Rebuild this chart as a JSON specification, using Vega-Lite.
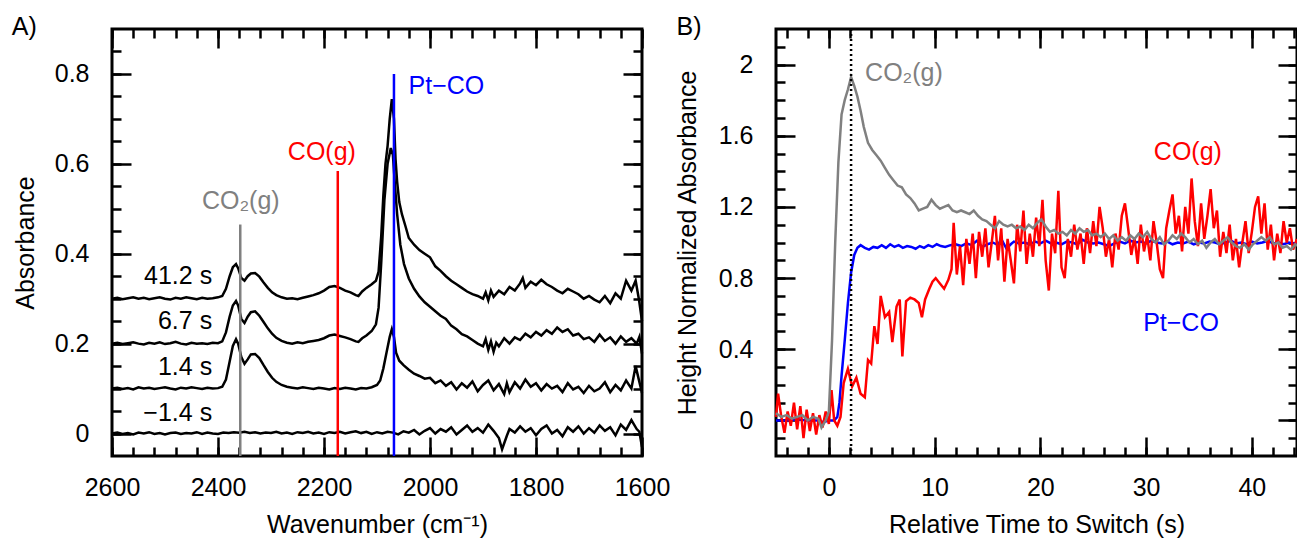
{
"$schema":"https://vega.github.io/schema/vega-lite/v6.json",
"padding":{"left":10,"top":13,"right":0,"bottom":0},
"spacing":134,
"bounds":"flush",
"config":{"font":"Liberation Sans","view":{"stroke":null},
"axis":{"grid":false,"domain":false,"labelFont":"Liberation Sans","titleFont":"Liberation Sans","labelFontSize":25,"titleFontSize":25,"titleFontWeight":"normal","labelColor":"black","titleColor":"black","tickColor":"black","tickWidth":2.5,"labelFlush":false,"labelOverlap":false},
"text":{"font":"Liberation Sans","fontSize":25}},
"datasets":{
"specA":[
{"s":"-1.4","wn":2600,"a":0.000},{"s":"-1.4","wn":2590,"a":0.002},{"s":"-1.4","wn":2580,"a":-0.001},{"s":"-1.4","wn":2570,"a":0.001},{"s":"-1.4","wn":2560,"a":-0.002},{"s":"-1.4","wn":2550,"a":0.002},{"s":"-1.4","wn":2540,"a":0.000},{"s":"-1.4","wn":2530,"a":0.003},{"s":"-1.4","wn":2520,"a":-0.001},{"s":"-1.4","wn":2510,"a":0.001},{"s":"-1.4","wn":2500,"a":-0.002},{"s":"-1.4","wn":2490,"a":0.001},{"s":"-1.4","wn":2480,"a":0.002},{"s":"-1.4","wn":2470,"a":-0.001},{"s":"-1.4","wn":2460,"a":0.001},{"s":"-1.4","wn":2450,"a":0.000},{"s":"-1.4","wn":2440,"a":0.003},{"s":"-1.4","wn":2430,"a":-0.001},{"s":"-1.4","wn":2420,"a":0.002},{"s":"-1.4","wn":2410,"a":0.000},{"s":"-1.4","wn":2400,"a":-0.001},{"s":"-1.4","wn":2390,"a":0.002},{"s":"-1.4","wn":2380,"a":0.001},{"s":"-1.4","wn":2370,"a":0.003},{"s":"-1.4","wn":2360,"a":0.002},{"s":"-1.4","wn":2350,"a":0.004},{"s":"-1.4","wn":2340,"a":0.001},{"s":"-1.4","wn":2330,"a":0.003},{"s":"-1.4","wn":2320,"a":0.000},{"s":"-1.4","wn":2310,"a":0.002},{"s":"-1.4","wn":2300,"a":0.001},{"s":"-1.4","wn":2290,"a":0.004},{"s":"-1.4","wn":2280,"a":0.000},{"s":"-1.4","wn":2270,"a":0.002},{"s":"-1.4","wn":2260,"a":-0.001},{"s":"-1.4","wn":2250,"a":0.003},{"s":"-1.4","wn":2240,"a":0.001},{"s":"-1.4","wn":2230,"a":0.004},{"s":"-1.4","wn":2220,"a":0.000},{"s":"-1.4","wn":2210,"a":0.002},{"s":"-1.4","wn":2200,"a":-0.001},{"s":"-1.4","wn":2190,"a":0.003},{"s":"-1.4","wn":2180,"a":0.001},{"s":"-1.4","wn":2170,"a":0.004},{"s":"-1.4","wn":2160,"a":0.000},{"s":"-1.4","wn":2150,"a":0.003},{"s":"-1.4","wn":2140,"a":0.005},{"s":"-1.4","wn":2130,"a":0.001},{"s":"-1.4","wn":2120,"a":0.004},{"s":"-1.4","wn":2110,"a":-0.001},{"s":"-1.4","wn":2100,"a":0.003},{"s":"-1.4","wn":2090,"a":0.000},{"s":"-1.4","wn":2080,"a":0.004},{"s":"-1.4","wn":2070,"a":0.002},{"s":"-1.4","wn":2060,"a":-0.002},{"s":"-1.4","wn":2050,"a":0.005},{"s":"-1.4","wn":2040,"a":0.002},{"s":"-1.4","wn":2030,"a":0.008},{"s":"-1.4","wn":2020,"a":-0.002},{"s":"-1.4","wn":2010,"a":0.006},{"s":"-1.4","wn":2000,"a":0.012},{"s":"-1.4","wn":1990,"a":0.000},{"s":"-1.4","wn":1980,"a":0.010},{"s":"-1.4","wn":1970,"a":0.004},{"s":"-1.4","wn":1960,"a":0.014},{"s":"-1.4","wn":1950,"a":-0.002},{"s":"-1.4","wn":1940,"a":0.008},{"s":"-1.4","wn":1930,"a":0.018},{"s":"-1.4","wn":1920,"a":0.004},{"s":"-1.4","wn":1910,"a":0.012},{"s":"-1.4","wn":1900,"a":0.002},{"s":"-1.4","wn":1890,"a":0.020},{"s":"-1.4","wn":1880,"a":0.006},{"s":"-1.4","wn":1870,"a":-0.010},{"s":"-1.4","wn":1864,"a":-0.035},{"s":"-1.4","wn":1855,"a":-0.005},{"s":"-1.4","wn":1850,"a":0.010},{"s":"-1.4","wn":1840,"a":0.002},{"s":"-1.4","wn":1830,"a":0.016},{"s":"-1.4","wn":1820,"a":0.004},{"s":"-1.4","wn":1810,"a":0.012},{"s":"-1.4","wn":1800,"a":-0.004},{"s":"-1.4","wn":1790,"a":0.010},{"s":"-1.4","wn":1780,"a":0.018},{"s":"-1.4","wn":1770,"a":0.000},{"s":"-1.4","wn":1760,"a":0.008},{"s":"-1.4","wn":1750,"a":-0.006},{"s":"-1.4","wn":1740,"a":0.014},{"s":"-1.4","wn":1730,"a":0.004},{"s":"-1.4","wn":1720,"a":0.016},{"s":"-1.4","wn":1710,"a":0.000},{"s":"-1.4","wn":1700,"a":0.012},{"s":"-1.4","wn":1690,"a":0.002},{"s":"-1.4","wn":1680,"a":0.018},{"s":"-1.4","wn":1670,"a":0.006},{"s":"-1.4","wn":1660,"a":0.014},{"s":"-1.4","wn":1650,"a":-0.004},{"s":"-1.4","wn":1640,"a":0.020},{"s":"-1.4","wn":1630,"a":0.008},{"s":"-1.4","wn":1620,"a":0.030},{"s":"-1.4","wn":1610,"a":0.010},{"s":"-1.4","wn":1605,"a":0.004},{"s":"-1.4","wn":1600,"a":-0.030},
{"s":"1.4","wn":2600,"a":0.100},{"s":"1.4","wn":2590,"a":0.102},{"s":"1.4","wn":2580,"a":0.099},{"s":"1.4","wn":2570,"a":0.101},{"s":"1.4","wn":2560,"a":0.098},{"s":"1.4","wn":2550,"a":0.103},{"s":"1.4","wn":2540,"a":0.100},{"s":"1.4","wn":2530,"a":0.102},{"s":"1.4","wn":2520,"a":0.099},{"s":"1.4","wn":2510,"a":0.101},{"s":"1.4","wn":2500,"a":0.103},{"s":"1.4","wn":2490,"a":0.100},{"s":"1.4","wn":2480,"a":0.098},{"s":"1.4","wn":2470,"a":0.102},{"s":"1.4","wn":2460,"a":0.100},{"s":"1.4","wn":2450,"a":0.103},{"s":"1.4","wn":2440,"a":0.101},{"s":"1.4","wn":2430,"a":0.099},{"s":"1.4","wn":2420,"a":0.102},{"s":"1.4","wn":2410,"a":0.100},{"s":"1.4","wn":2400,"a":0.101},{"s":"1.4","wn":2392,"a":0.104},{"s":"1.4","wn":2385,"a":0.120},{"s":"1.4","wn":2378,"a":0.160},{"s":"1.4","wn":2372,"a":0.195},{"s":"1.4","wn":2366,"a":0.210},{"s":"1.4","wn":2362,"a":0.200},{"s":"1.4","wn":2356,"a":0.170},{"s":"1.4","wn":2350,"a":0.155},{"s":"1.4","wn":2344,"a":0.165},{"s":"1.4","wn":2338,"a":0.176},{"s":"1.4","wn":2330,"a":0.177},{"s":"1.4","wn":2322,"a":0.168},{"s":"1.4","wn":2314,"a":0.152},{"s":"1.4","wn":2306,"a":0.137},{"s":"1.4","wn":2298,"a":0.124},{"s":"1.4","wn":2290,"a":0.115},{"s":"1.4","wn":2280,"a":0.108},{"s":"1.4","wn":2270,"a":0.104},{"s":"1.4","wn":2260,"a":0.102},{"s":"1.4","wn":2250,"a":0.100},{"s":"1.4","wn":2240,"a":0.103},{"s":"1.4","wn":2230,"a":0.101},{"s":"1.4","wn":2220,"a":0.099},{"s":"1.4","wn":2210,"a":0.102},{"s":"1.4","wn":2200,"a":0.100},{"s":"1.4","wn":2190,"a":0.098},{"s":"1.4","wn":2180,"a":0.101},{"s":"1.4","wn":2170,"a":0.099},{"s":"1.4","wn":2160,"a":0.102},{"s":"1.4","wn":2150,"a":0.100},{"s":"1.4","wn":2140,"a":0.098},{"s":"1.4","wn":2130,"a":0.101},{"s":"1.4","wn":2120,"a":0.100},{"s":"1.4","wn":2110,"a":0.103},{"s":"1.4","wn":2100,"a":0.108},{"s":"1.4","wn":2094,"a":0.118},{"s":"1.4","wn":2088,"a":0.145},{"s":"1.4","wn":2082,"a":0.180},{"s":"1.4","wn":2076,"a":0.215},{"s":"1.4","wn":2072,"a":0.232},{"s":"1.4","wn":2068,"a":0.215},{"s":"1.4","wn":2064,"a":0.180},{"s":"1.4","wn":2058,"a":0.162},{"s":"1.4","wn":2050,"a":0.152},{"s":"1.4","wn":2040,"a":0.142},{"s":"1.4","wn":2030,"a":0.133},{"s":"1.4","wn":2020,"a":0.128},{"s":"1.4","wn":2010,"a":0.122},{"s":"1.4","wn":2000,"a":0.124},{"s":"1.4","wn":1990,"a":0.112},{"s":"1.4","wn":1980,"a":0.118},{"s":"1.4","wn":1970,"a":0.106},{"s":"1.4","wn":1960,"a":0.114},{"s":"1.4","wn":1950,"a":0.098},{"s":"1.4","wn":1940,"a":0.112},{"s":"1.4","wn":1930,"a":0.102},{"s":"1.4","wn":1920,"a":0.116},{"s":"1.4","wn":1910,"a":0.094},{"s":"1.4","wn":1900,"a":0.108},{"s":"1.4","wn":1890,"a":0.118},{"s":"1.4","wn":1880,"a":0.096},{"s":"1.4","wn":1870,"a":0.110},{"s":"1.4","wn":1860,"a":0.088},{"s":"1.4","wn":1855,"a":0.112},{"s":"1.4","wn":1850,"a":0.092},{"s":"1.4","wn":1840,"a":0.114},{"s":"1.4","wn":1830,"a":0.100},{"s":"1.4","wn":1820,"a":0.120},{"s":"1.4","wn":1810,"a":0.104},{"s":"1.4","wn":1800,"a":0.112},{"s":"1.4","wn":1790,"a":0.096},{"s":"1.4","wn":1780,"a":0.110},{"s":"1.4","wn":1770,"a":0.100},{"s":"1.4","wn":1760,"a":0.106},{"s":"1.4","wn":1750,"a":0.092},{"s":"1.4","wn":1740,"a":0.112},{"s":"1.4","wn":1730,"a":0.098},{"s":"1.4","wn":1720,"a":0.104},{"s":"1.4","wn":1710,"a":0.090},{"s":"1.4","wn":1700,"a":0.106},{"s":"1.4","wn":1690,"a":0.094},{"s":"1.4","wn":1680,"a":0.100},{"s":"1.4","wn":1670,"a":0.114},{"s":"1.4","wn":1660,"a":0.092},{"s":"1.4","wn":1650,"a":0.108},{"s":"1.4","wn":1640,"a":0.096},{"s":"1.4","wn":1630,"a":0.118},{"s":"1.4","wn":1620,"a":0.100},{"s":"1.4","wn":1612,"a":0.150},{"s":"1.4","wn":1606,"a":0.120},{"s":"1.4","wn":1600,"a":0.090},
{"s":"6.7","wn":2600,"a":0.200},{"s":"6.7","wn":2590,"a":0.202},{"s":"6.7","wn":2580,"a":0.199},{"s":"6.7","wn":2570,"a":0.201},{"s":"6.7","wn":2560,"a":0.203},{"s":"6.7","wn":2550,"a":0.200},{"s":"6.7","wn":2540,"a":0.198},{"s":"6.7","wn":2530,"a":0.202},{"s":"6.7","wn":2520,"a":0.200},{"s":"6.7","wn":2510,"a":0.203},{"s":"6.7","wn":2500,"a":0.199},{"s":"6.7","wn":2490,"a":0.201},{"s":"6.7","wn":2480,"a":0.204},{"s":"6.7","wn":2470,"a":0.200},{"s":"6.7","wn":2460,"a":0.198},{"s":"6.7","wn":2450,"a":0.202},{"s":"6.7","wn":2440,"a":0.200},{"s":"6.7","wn":2430,"a":0.201},{"s":"6.7","wn":2420,"a":0.199},{"s":"6.7","wn":2410,"a":0.202},{"s":"6.7","wn":2400,"a":0.201},{"s":"6.7","wn":2392,"a":0.205},{"s":"6.7","wn":2385,"a":0.225},{"s":"6.7","wn":2378,"a":0.260},{"s":"6.7","wn":2372,"a":0.285},{"s":"6.7","wn":2366,"a":0.295},{"s":"6.7","wn":2362,"a":0.285},{"s":"6.7","wn":2356,"a":0.255},{"s":"6.7","wn":2350,"a":0.246},{"s":"6.7","wn":2344,"a":0.260},{"s":"6.7","wn":2338,"a":0.270},{"s":"6.7","wn":2330,"a":0.272},{"s":"6.7","wn":2322,"a":0.262},{"s":"6.7","wn":2314,"a":0.248},{"s":"6.7","wn":2306,"a":0.234},{"s":"6.7","wn":2298,"a":0.222},{"s":"6.7","wn":2290,"a":0.213},{"s":"6.7","wn":2280,"a":0.206},{"s":"6.7","wn":2270,"a":0.202},{"s":"6.7","wn":2260,"a":0.200},{"s":"6.7","wn":2250,"a":0.203},{"s":"6.7","wn":2240,"a":0.201},{"s":"6.7","wn":2230,"a":0.204},{"s":"6.7","wn":2220,"a":0.206},{"s":"6.7","wn":2210,"a":0.208},{"s":"6.7","wn":2200,"a":0.212},{"s":"6.7","wn":2190,"a":0.218},{"s":"6.7","wn":2180,"a":0.220},{"s":"6.7","wn":2170,"a":0.217},{"s":"6.7","wn":2160,"a":0.214},{"s":"6.7","wn":2150,"a":0.210},{"s":"6.7","wn":2140,"a":0.205},{"s":"6.7","wn":2135,"a":0.204},{"s":"6.7","wn":2128,"a":0.212},{"s":"6.7","wn":2120,"a":0.218},{"s":"6.7","wn":2110,"a":0.228},{"s":"6.7","wn":2102,"a":0.243},{"s":"6.7","wn":2097,"a":0.280},{"s":"6.7","wn":2092,"a":0.380},{"s":"6.7","wn":2086,"a":0.520},{"s":"6.7","wn":2080,"a":0.600},{"s":"6.7","wn":2074,"a":0.635},{"s":"6.7","wn":2070,"a":0.620},{"s":"6.7","wn":2066,"a":0.550},{"s":"6.7","wn":2062,"a":0.488},{"s":"6.7","wn":2056,"a":0.420},{"s":"6.7","wn":2049,"a":0.377},{"s":"6.7","wn":2040,"a":0.345},{"s":"6.7","wn":2030,"a":0.322},{"s":"6.7","wn":2020,"a":0.305},{"s":"6.7","wn":2010,"a":0.292},{"s":"6.7","wn":2000,"a":0.282},{"s":"6.7","wn":1990,"a":0.272},{"s":"6.7","wn":1980,"a":0.262},{"s":"6.7","wn":1970,"a":0.255},{"s":"6.7","wn":1960,"a":0.240},{"s":"6.7","wn":1950,"a":0.232},{"s":"6.7","wn":1940,"a":0.221},{"s":"6.7","wn":1930,"a":0.216},{"s":"6.7","wn":1920,"a":0.208},{"s":"6.7","wn":1910,"a":0.200},{"s":"6.7","wn":1900,"a":0.194},{"s":"6.7","wn":1895,"a":0.210},{"s":"6.7","wn":1890,"a":0.186},{"s":"6.7","wn":1885,"a":0.205},{"s":"6.7","wn":1880,"a":0.182},{"s":"6.7","wn":1875,"a":0.202},{"s":"6.7","wn":1870,"a":0.194},{"s":"6.7","wn":1860,"a":0.212},{"s":"6.7","wn":1850,"a":0.200},{"s":"6.7","wn":1840,"a":0.214},{"s":"6.7","wn":1830,"a":0.208},{"s":"6.7","wn":1820,"a":0.222},{"s":"6.7","wn":1810,"a":0.214},{"s":"6.7","wn":1800,"a":0.226},{"s":"6.7","wn":1790,"a":0.218},{"s":"6.7","wn":1780,"a":0.230},{"s":"6.7","wn":1770,"a":0.222},{"s":"6.7","wn":1760,"a":0.236},{"s":"6.7","wn":1750,"a":0.226},{"s":"6.7","wn":1740,"a":0.232},{"s":"6.7","wn":1730,"a":0.218},{"s":"6.7","wn":1720,"a":0.222},{"s":"6.7","wn":1710,"a":0.210},{"s":"6.7","wn":1700,"a":0.214},{"s":"6.7","wn":1690,"a":0.204},{"s":"6.7","wn":1680,"a":0.220},{"s":"6.7","wn":1670,"a":0.206},{"s":"6.7","wn":1660,"a":0.214},{"s":"6.7","wn":1650,"a":0.200},{"s":"6.7","wn":1640,"a":0.216},{"s":"6.7","wn":1630,"a":0.204},{"s":"6.7","wn":1620,"a":0.212},{"s":"6.7","wn":1610,"a":0.200},{"s":"6.7","wn":1605,"a":0.215},{"s":"6.7","wn":1600,"a":0.178},
{"s":"41.2","wn":2600,"a":0.300},{"s":"41.2","wn":2590,"a":0.302},{"s":"41.2","wn":2580,"a":0.299},{"s":"41.2","wn":2570,"a":0.301},{"s":"41.2","wn":2560,"a":0.303},{"s":"41.2","wn":2550,"a":0.300},{"s":"41.2","wn":2540,"a":0.302},{"s":"41.2","wn":2530,"a":0.299},{"s":"41.2","wn":2520,"a":0.301},{"s":"41.2","wn":2510,"a":0.303},{"s":"41.2","wn":2500,"a":0.300},{"s":"41.2","wn":2490,"a":0.298},{"s":"41.2","wn":2480,"a":0.302},{"s":"41.2","wn":2470,"a":0.300},{"s":"41.2","wn":2460,"a":0.303},{"s":"41.2","wn":2450,"a":0.301},{"s":"41.2","wn":2440,"a":0.299},{"s":"41.2","wn":2430,"a":0.302},{"s":"41.2","wn":2420,"a":0.300},{"s":"41.2","wn":2410,"a":0.301},{"s":"41.2","wn":2400,"a":0.303},{"s":"41.2","wn":2392,"a":0.306},{"s":"41.2","wn":2385,"a":0.322},{"s":"41.2","wn":2378,"a":0.350},{"s":"41.2","wn":2372,"a":0.370},{"s":"41.2","wn":2366,"a":0.377},{"s":"41.2","wn":2362,"a":0.368},{"s":"41.2","wn":2356,"a":0.346},{"s":"41.2","wn":2350,"a":0.340},{"s":"41.2","wn":2344,"a":0.350},{"s":"41.2","wn":2338,"a":0.356},{"s":"41.2","wn":2330,"a":0.357},{"s":"41.2","wn":2322,"a":0.349},{"s":"41.2","wn":2314,"a":0.336},{"s":"41.2","wn":2306,"a":0.324},{"s":"41.2","wn":2298,"a":0.314},{"s":"41.2","wn":2290,"a":0.308},{"s":"41.2","wn":2280,"a":0.303},{"s":"41.2","wn":2270,"a":0.300},{"s":"41.2","wn":2260,"a":0.301},{"s":"41.2","wn":2250,"a":0.299},{"s":"41.2","wn":2240,"a":0.302},{"s":"41.2","wn":2230,"a":0.305},{"s":"41.2","wn":2220,"a":0.308},{"s":"41.2","wn":2210,"a":0.312},{"s":"41.2","wn":2200,"a":0.318},{"s":"41.2","wn":2190,"a":0.326},{"s":"41.2","wn":2180,"a":0.328},{"s":"41.2","wn":2170,"a":0.324},{"s":"41.2","wn":2160,"a":0.318},{"s":"41.2","wn":2150,"a":0.314},{"s":"41.2","wn":2140,"a":0.308},{"s":"41.2","wn":2135,"a":0.306},{"s":"41.2","wn":2128,"a":0.316},{"s":"41.2","wn":2120,"a":0.324},{"s":"41.2","wn":2110,"a":0.332},{"s":"41.2","wn":2102,"a":0.340},{"s":"41.2","wn":2097,"a":0.360},{"s":"41.2","wn":2092,"a":0.440},{"s":"41.2","wn":2088,"a":0.530},{"s":"41.2","wn":2084,"a":0.600},{"s":"41.2","wn":2080,"a":0.640},{"s":"41.2","wn":2076,"a":0.700},{"s":"41.2","wn":2072,"a":0.744},{"s":"41.2","wn":2068,"a":0.700},{"s":"41.2","wn":2065,"a":0.610},{"s":"41.2","wn":2062,"a":0.560},{"s":"41.2","wn":2058,"a":0.515},{"s":"41.2","wn":2053,"a":0.488},{"s":"41.2","wn":2046,"a":0.460},{"s":"41.2","wn":2040,"a":0.435},{"s":"41.2","wn":2030,"a":0.420},{"s":"41.2","wn":2020,"a":0.408},{"s":"41.2","wn":2010,"a":0.400},{"s":"41.2","wn":2000,"a":0.392},{"s":"41.2","wn":1990,"a":0.372},{"s":"41.2","wn":1980,"a":0.362},{"s":"41.2","wn":1970,"a":0.350},{"s":"41.2","wn":1960,"a":0.340},{"s":"41.2","wn":1950,"a":0.332},{"s":"41.2","wn":1940,"a":0.324},{"s":"41.2","wn":1930,"a":0.316},{"s":"41.2","wn":1920,"a":0.310},{"s":"41.2","wn":1910,"a":0.306},{"s":"41.2","wn":1900,"a":0.300},{"s":"41.2","wn":1895,"a":0.314},{"s":"41.2","wn":1890,"a":0.296},{"s":"41.2","wn":1885,"a":0.318},{"s":"41.2","wn":1880,"a":0.304},{"s":"41.2","wn":1870,"a":0.318},{"s":"41.2","wn":1860,"a":0.310},{"s":"41.2","wn":1850,"a":0.326},{"s":"41.2","wn":1840,"a":0.318},{"s":"41.2","wn":1830,"a":0.334},{"s":"41.2","wn":1825,"a":0.346},{"s":"41.2","wn":1820,"a":0.324},{"s":"41.2","wn":1810,"a":0.338},{"s":"41.2","wn":1800,"a":0.330},{"s":"41.2","wn":1790,"a":0.342},{"s":"41.2","wn":1780,"a":0.332},{"s":"41.2","wn":1770,"a":0.326},{"s":"41.2","wn":1760,"a":0.318},{"s":"41.2","wn":1750,"a":0.312},{"s":"41.2","wn":1740,"a":0.322},{"s":"41.2","wn":1730,"a":0.316},{"s":"41.2","wn":1720,"a":0.310},{"s":"41.2","wn":1710,"a":0.300},{"s":"41.2","wn":1700,"a":0.306},{"s":"41.2","wn":1690,"a":0.298},{"s":"41.2","wn":1680,"a":0.292},{"s":"41.2","wn":1670,"a":0.306},{"s":"41.2","wn":1660,"a":0.290},{"s":"41.2","wn":1650,"a":0.312},{"s":"41.2","wn":1640,"a":0.300},{"s":"41.2","wn":1630,"a":0.340},{"s":"41.2","wn":1620,"a":0.318},{"s":"41.2","wn":1612,"a":0.340},{"s":"41.2","wn":1606,"a":0.300},{"s":"41.2","wn":1600,"a":0.250}
],
"rulesA":[{"sp":"CO2","wn":2358,"y1":-0.05,"y2":0.465},{"sp":"CO","wn":2174,"y1":-0.05,"y2":0.584},{"sp":"PtCO","wn":2068,"y1":-0.05,"y2":0.8}],
"timeLabA":[{"label":"41.2 s","wn":2411,"y":0.35},{"label":"6.7 s","wn":2411,"y":0.25},{"label":"1.4 s","wn":2411,"y":0.148},{"label":"−1.4 s","wn":2411,"y":0.046}],
"spLabA":[{"sp":"CO2","label":"CO₂(g)","wn":2357,"y":0.517},{"sp":"CO","label":"CO(g)","wn":2204,"y":0.626},{"sp":"PtCO","label":"Pt−CO","wn":1969,"y":0.773}],
"panelA":[{"label":"A)","wn":2789,"y":0.905}],
"ptco":[{"t":-5,"v":0.0},{"t":-4,"v":0.0},{"t":-3,"v":0.005},{"t":-2,"v":0.0},{"t":-1,"v":0.0},{"t":-0.5,"v":-0.01},{"t":0,"v":0.0},{"t":0.5,"v":0.0},{"t":0.8,"v":0.02},{"t":1.0,"v":0.1},{"t":1.2,"v":0.25},{"t":1.5,"v":0.45},{"t":1.8,"v":0.66},{"t":2.1,"v":0.83},{"t":2.4,"v":0.93},{"t":2.7,"v":0.97},{"t":3.0,"v":0.985},{"t":3.4,"v":0.97},{"t":3.8,"v":0.96},{"t":4.2,"v":0.975},{"t":4.6,"v":0.97},{"t":5.0,"v":0.985},{"t":5.4,"v":0.97},{"t":5.8,"v":0.99},{"t":6.2,"v":0.975},{"t":6.6,"v":0.985},{"t":7.0,"v":0.97},{"t":7.4,"v":0.98},{"t":7.8,"v":0.975},{"t":8.2,"v":0.965},{"t":8.6,"v":0.98},{"t":9.0,"v":0.97},{"t":9.4,"v":0.985},{"t":9.8,"v":0.975},{"t":10.2,"v":0.99},{"t":10.6,"v":0.98},{"t":11.0,"v":0.975},{"t":11.5,"v":0.985},{"t":12,"v":0.99},{"t":12.5,"v":0.98},{"t":13,"v":0.995},{"t":13.5,"v":0.985},{"t":14,"v":1.01},{"t":14.5,"v":0.975},{"t":15,"v":0.99},{"t":15.5,"v":1.0},{"t":16,"v":0.985},{"t":16.3,"v":1.02},{"t":16.8,"v":0.965},{"t":17.2,"v":0.99},{"t":17.5,"v":1.005},{"t":18,"v":0.995},{"t":18.5,"v":1.0},{"t":19,"v":0.99},{"t":19.5,"v":1.005},{"t":20,"v":0.995},{"t":20.5,"v":1.01},{"t":21,"v":0.995},{"t":21.5,"v":1.0},{"t":22,"v":0.99},{"t":22.5,"v":1.005},{"t":23,"v":1.0},{"t":23.5,"v":0.99},{"t":24,"v":1.015},{"t":24.5,"v":1.0},{"t":25,"v":0.995},{"t":25.5,"v":1.0},{"t":26,"v":0.99},{"t":26.5,"v":0.98},{"t":27,"v":0.995},{"t":27.5,"v":1.005},{"t":28,"v":0.995},{"t":28.5,"v":1.01},{"t":29,"v":1.0},{"t":29.5,"v":1.005},{"t":30,"v":0.995},{"t":30.5,"v":1.01},{"t":31,"v":1.0},{"t":31.5,"v":0.995},{"t":32,"v":1.005},{"t":32.5,"v":0.99},{"t":33,"v":1.0},{"t":33.5,"v":0.995},{"t":34,"v":1.005},{"t":34.5,"v":0.99},{"t":35,"v":1.0},{"t":35.5,"v":0.995},{"t":36,"v":1.005},{"t":36.5,"v":1.0},{"t":37,"v":0.99},{"t":37.5,"v":1.0},{"t":38,"v":1.01},{"t":38.5,"v":0.995},{"t":39,"v":1.0},{"t":39.5,"v":0.99},{"t":40,"v":1.005},{"t":40.5,"v":0.995},{"t":41,"v":1.0},{"t":41.5,"v":1.01},{"t":42,"v":0.995},{"t":42.5,"v":1.0},{"t":43,"v":0.99},{"t":43.5,"v":1.0},{"t":44,"v":0.995},{"t":44.27,"v":1.0}],
"co":[{"t":-5,"v":0.02},{"t":-4.8,"v":0.15},{"t":-4.5,"v":0.02},{"t":-4.2,"v":-0.07},{"t":-3.9,"v":0.05},{"t":-3.6,"v":-0.03},{"t":-3.3,"v":0.1},{"t":-3.0,"v":-0.05},{"t":-2.7,"v":0.08},{"t":-2.4,"v":-0.1},{"t":-2.1,"v":0.06},{"t":-1.8,"v":-0.06},{"t":-1.5,"v":0.04},{"t":-1.2,"v":-0.08},{"t":-0.9,"v":0.03},{"t":-0.6,"v":-0.04},{"t":-0.3,"v":0.05},{"t":0.0,"v":-0.02},{"t":0.25,"v":0.17},{"t":0.5,"v":0.0},{"t":0.8,"v":-0.03},{"t":1.1,"v":0.02},{"t":1.4,"v":0.21},{"t":1.8,"v":0.29},{"t":2.2,"v":0.19},{"t":2.6,"v":0.24},{"t":3.0,"v":0.15},{"t":3.4,"v":0.13},{"t":3.7,"v":0.34},{"t":4.0,"v":0.32},{"t":4.3,"v":0.53},{"t":4.6,"v":0.43},{"t":4.9,"v":0.7},{"t":5.3,"v":0.58},{"t":5.7,"v":0.61},{"t":6.0,"v":0.44},{"t":6.4,"v":0.64},{"t":6.7,"v":0.68},{"t":6.95,"v":0.36},{"t":7.3,"v":0.67},{"t":7.7,"v":0.69},{"t":8.1,"v":0.68},{"t":8.5,"v":0.66},{"t":8.8,"v":0.58},{"t":9.1,"v":0.68},{"t":9.5,"v":0.74},{"t":9.8,"v":0.78},{"t":10.1,"v":0.8},{"t":10.5,"v":0.77},{"t":10.9,"v":0.74},{"t":11.3,"v":0.79},{"t":11.6,"v":0.85},{"t":11.8,"v":1.11},{"t":12.1,"v":0.82},{"t":12.4,"v":0.98},{"t":12.7,"v":0.76},{"t":13.0,"v":1.02},{"t":13.3,"v":0.88},{"t":13.6,"v":1.05},{"t":13.9,"v":0.8},{"t":14.2,"v":1.06},{"t":14.5,"v":0.92},{"t":14.8,"v":1.08},{"t":15.1,"v":0.86},{"t":15.4,"v":1.0},{"t":15.7,"v":1.15},{"t":16.0,"v":0.9},{"t":16.3,"v":1.08},{"t":16.6,"v":0.78},{"t":16.9,"v":1.02},{"t":17.2,"v":0.9},{"t":17.5,"v":0.77},{"t":17.8,"v":1.1},{"t":18.1,"v":0.95},{"t":18.4,"v":1.18},{"t":18.7,"v":0.88},{"t":19.0,"v":1.05},{"t":19.3,"v":0.92},{"t":19.6,"v":1.14},{"t":19.9,"v":0.98},{"t":20.2,"v":1.24},{"t":20.5,"v":0.9},{"t":20.8,"v":0.73},{"t":21.1,"v":1.05},{"t":21.4,"v":0.94},{"t":21.7,"v":1.29},{"t":22.0,"v":0.86},{"t":22.3,"v":0.8},{"t":22.6,"v":1.02},{"t":22.9,"v":0.92},{"t":23.2,"v":1.1},{"t":23.5,"v":0.96},{"t":23.8,"v":1.05},{"t":24.1,"v":0.88},{"t":24.4,"v":1.08},{"t":24.7,"v":0.94},{"t":25.0,"v":1.12},{"t":25.3,"v":0.98},{"t":25.6,"v":1.2},{"t":25.9,"v":1.08},{"t":26.2,"v":0.92},{"t":26.5,"v":1.02},{"t":26.8,"v":0.86},{"t":27.1,"v":1.05},{"t":27.4,"v":0.96},{"t":27.7,"v":1.15},{"t":28.0,"v":1.22},{"t":28.3,"v":1.08},{"t":28.6,"v":0.93},{"t":28.9,"v":1.03},{"t":29.2,"v":0.88},{"t":29.5,"v":1.1},{"t":29.8,"v":0.95},{"t":30.1,"v":1.04},{"t":30.4,"v":0.9},{"t":30.7,"v":1.12},{"t":31.0,"v":1.0},{"t":31.3,"v":0.85},{"t":31.6,"v":0.8},{"t":31.9,"v":1.08},{"t":32.2,"v":1.18},{"t":32.5,"v":1.27},{"t":32.8,"v":1.05},{"t":33.1,"v":1.15},{"t":33.4,"v":0.95},{"t":33.7,"v":1.2},{"t":34.0,"v":1.05},{"t":34.3,"v":1.36},{"t":34.6,"v":1.12},{"t":34.9,"v":0.98},{"t":35.2,"v":1.22},{"t":35.5,"v":1.02},{"t":35.8,"v":1.15},{"t":36.1,"v":1.3},{"t":36.4,"v":1.08},{"t":36.7,"v":1.18},{"t":37.0,"v":0.92},{"t":37.3,"v":1.06},{"t":37.6,"v":0.94},{"t":37.9,"v":1.1},{"t":38.2,"v":0.9},{"t":38.5,"v":1.02},{"t":38.8,"v":0.86},{"t":39.1,"v":1.0},{"t":39.4,"v":1.12},{"t":39.7,"v":0.94},{"t":40.0,"v":1.06},{"t":40.3,"v":1.2},{"t":40.6,"v":1.26},{"t":40.9,"v":1.05},{"t":41.2,"v":1.22},{"t":41.5,"v":0.96},{"t":41.8,"v":1.1},{"t":42.1,"v":0.9},{"t":42.4,"v":1.05},{"t":42.7,"v":0.94},{"t":43.0,"v":1.12},{"t":43.3,"v":1.0},{"t":43.6,"v":1.08},{"t":43.9,"v":0.96},{"t":44.27,"v":1.02}],
"co2":[{"t":-5,"v":0.04},{"t":-4.5,"v":0.02},{"t":-4,"v":0.03},{"t":-3.5,"v":0.01},{"t":-3,"v":0.02},{"t":-2.5,"v":0.03},{"t":-2,"v":0.0},{"t":-1.5,"v":0.02},{"t":-1,"v":0.01},{"t":-0.7,"v":-0.04},{"t":-0.3,"v":0.0},{"t":0,"v":0.05},{"t":0.3,"v":0.45},{"t":0.6,"v":1.0},{"t":0.9,"v":1.45},{"t":1.2,"v":1.72},{"t":1.5,"v":1.8},{"t":1.8,"v":1.86},{"t":2.1,"v":1.93},{"t":2.4,"v":1.88},{"t":2.7,"v":1.82},{"t":3.0,"v":1.74},{"t":3.3,"v":1.65},{"t":3.7,"v":1.56},{"t":4.1,"v":1.52},{"t":4.5,"v":1.49},{"t":4.9,"v":1.46},{"t":5.3,"v":1.42},{"t":5.7,"v":1.38},{"t":6.1,"v":1.35},{"t":6.5,"v":1.32},{"t":6.9,"v":1.31},{"t":7.3,"v":1.27},{"t":7.7,"v":1.25},{"t":8.1,"v":1.22},{"t":8.5,"v":1.18},{"t":8.9,"v":1.19},{"t":9.3,"v":1.2},{"t":9.7,"v":1.24},{"t":10.1,"v":1.21},{"t":10.5,"v":1.19},{"t":10.9,"v":1.2},{"t":11.3,"v":1.21},{"t":11.7,"v":1.18},{"t":12.1,"v":1.17},{"t":12.5,"v":1.18},{"t":12.9,"v":1.17},{"t":13.3,"v":1.16},{"t":13.7,"v":1.18},{"t":14.1,"v":1.15},{"t":14.5,"v":1.13},{"t":14.9,"v":1.12},{"t":15.3,"v":1.1},{"t":15.7,"v":1.08},{"t":16.1,"v":1.12},{"t":16.5,"v":1.1},{"t":16.9,"v":1.09},{"t":17.3,"v":1.1},{"t":17.7,"v":1.08},{"t":18.1,"v":1.09},{"t":18.5,"v":1.07},{"t":18.9,"v":1.1},{"t":19.3,"v":1.08},{"t":19.7,"v":1.11},{"t":20.1,"v":1.13},{"t":20.5,"v":1.09},{"t":20.9,"v":1.06},{"t":21.3,"v":1.07},{"t":21.7,"v":1.05},{"t":22.1,"v":1.06},{"t":22.5,"v":1.04},{"t":22.9,"v":1.07},{"t":23.3,"v":1.05},{"t":23.7,"v":1.08},{"t":24.1,"v":1.06},{"t":24.5,"v":1.07},{"t":24.9,"v":1.04},{"t":25.3,"v":1.05},{"t":25.7,"v":1.03},{"t":26.1,"v":1.05},{"t":26.5,"v":1.02},{"t":26.9,"v":1.04},{"t":27.3,"v":1.01},{"t":27.7,"v":1.03},{"t":28.1,"v":1.01},{"t":28.5,"v":1.04},{"t":28.9,"v":1.02},{"t":29.3,"v":1.05},{"t":29.7,"v":1.03},{"t":30.1,"v":1.06},{"t":30.5,"v":1.02},{"t":30.9,"v":1.0},{"t":31.3,"v":1.03},{"t":31.7,"v":0.99},{"t":32.1,"v":1.01},{"t":32.5,"v":1.04},{"t":32.9,"v":1.02},{"t":33.3,"v":1.05},{"t":33.7,"v":1.03},{"t":34.1,"v":1.0},{"t":34.5,"v":1.02},{"t":34.9,"v":0.99},{"t":35.3,"v":1.01},{"t":35.7,"v":0.97},{"t":36.1,"v":1.0},{"t":36.5,"v":1.02},{"t":36.9,"v":0.99},{"t":37.3,"v":1.01},{"t":37.7,"v":1.03},{"t":38.1,"v":1.0},{"t":38.5,"v":0.98},{"t":38.9,"v":0.97},{"t":39.3,"v":0.99},{"t":39.7,"v":0.96},{"t":40.1,"v":0.99},{"t":40.5,"v":1.01},{"t":40.9,"v":1.03},{"t":41.3,"v":1.01},{"t":41.7,"v":1.03},{"t":42.1,"v":0.99},{"t":42.5,"v":1.0},{"t":42.9,"v":0.97},{"t":43.3,"v":0.98},{"t":43.7,"v":0.96},{"t":44.1,"v":0.99},{"t":44.27,"v":0.98}],
"switchB":[{"t":2.1,"y1":-0.2,"y2":2.2}],
"spLabB":[{"sp":"CO2","label":"CO₂(g)","t":7.1,"v":1.953},{"sp":"CO","label":"CO(g)","t":33.95,"v":1.51},{"sp":"PtCO","label":"Pt−CO","t":33.3,"v":0.548}],
"panelB":[{"label":"B)","t":-14.4,"v":2.21}]
},
"hconcat":[
{"width":530,"height":427,
"view":{"stroke":"black","strokeWidth":3},
"resolve":{"axis":{"x":"independent","y":"independent"}},
"layer":[
{"data":{"name":"specA"},"mark":{"type":"line","color":"black","strokeWidth":2.5},
"encoding":{
"x":{"field":"wn","type":"quantitative","scale":{"domain":[2600,1600],"nice":false,"zero":false},"axis":{"orient":"bottom","values":[2600,2400,2200,2000,1800,1600],"format":"d","ticks":false,"labelPadding":19,"title":"Wavenumber (cm⁻¹)","titlePadding":12}},
"y":{"field":"a","type":"quantitative","scale":{"domain":[-0.05,0.9],"nice":false,"zero":false},"axis":{"orient":"left","values":[0,0.2,0.4,0.6,0.8],"format":"~g","ticks":false,"labelPadding":23,"title":"Absorbance","titlePadding":16}},
"detail":{"field":"s","type":"nominal"}}},
{"data":{"name":"rulesA"},"mark":{"type":"rule","strokeWidth":2.5},
"encoding":{
"x":{"field":"wn","type":"quantitative","scale":{"domain":[2600,1600],"nice":false,"zero":false},"axis":{"orient":"bottom","values":[2600,2400,2200,2000,1800,1600],"offset":-19,"tickSize":19,"labels":false,"title":null}},
"y":{"field":"y1","type":"quantitative","scale":{"domain":[-0.05,0.9],"nice":false,"zero":false},"axis":{"orient":"left","values":[0,0.2,0.4,0.6,0.8],"offset":-19,"tickSize":19,"labels":false,"title":null}},
"y2":{"field":"y2"},
"color":{"field":"sp","type":"nominal","scale":{"domain":["CO2","CO","PtCO"],"range":["#808080","#ff0000","#0000ff"]},"legend":null}}},
{"data":{"name":"timeLabA"},"mark":{"type":"text","align":"right","baseline":"middle","fontSize":25,"color":"black"},
"encoding":{
"x":{"field":"wn","type":"quantitative","scale":{"domain":[2600,1600],"nice":false,"zero":false},"axis":{"orient":"bottom","values":[2600,2560,2520,2480,2440,2400,2360,2320,2280,2240,2200,2160,2120,2080,2040,2000,1960,1920,1880,1840,1800,1760,1720,1680,1640,1600],"offset":-9,"tickSize":9,"labels":false,"title":null}},
"y":{"field":"y","type":"quantitative","scale":{"domain":[-0.05,0.9],"nice":false,"zero":false},"axis":{"orient":"left","values":[0,0.05,0.1,0.15,0.2,0.25,0.3,0.35,0.4,0.45,0.5,0.55,0.6,0.65,0.7,0.75,0.8,0.85],"offset":-9,"tickSize":9,"labels":false,"title":null}},
"text":{"field":"label"}}},
{"data":{"name":"spLabA"},"mark":{"type":"text","align":"center","baseline":"middle","fontSize":25},
"encoding":{
"x":{"field":"wn","type":"quantitative","scale":{"domain":[2600,1600],"nice":false,"zero":false},"axis":{"orient":"top","values":[2600,2400,2200,2000,1800,1600],"offset":-19,"tickSize":19,"labels":false,"title":null}},
"y":{"field":"y","type":"quantitative","scale":{"domain":[-0.05,0.9],"nice":false,"zero":false},"axis":{"orient":"right","values":[0,0.2,0.4,0.6,0.8],"offset":-19,"tickSize":19,"labels":false,"title":null}},
"text":{"field":"label"},
"color":{"field":"sp","type":"nominal","scale":{"domain":["CO2","CO","PtCO"],"range":["#808080","#ff0000","#0000ff"]},"legend":null}}},
{"data":{"name":"panelA"},"mark":{"type":"text","align":"left","baseline":"middle","fontSize":25,"color":"black"},
"encoding":{
"x":{"field":"wn","type":"quantitative","scale":{"domain":[2600,1600],"nice":false,"zero":false},"axis":{"orient":"top","values":[2600,2560,2520,2480,2440,2400,2360,2320,2280,2240,2200,2160,2120,2080,2040,2000,1960,1920,1880,1840,1800,1760,1720,1680,1640,1600],"offset":-9,"tickSize":9,"labels":false,"title":null}},
"y":{"field":"y","type":"quantitative","scale":{"domain":[-0.05,0.9],"nice":false,"zero":false},"axis":{"orient":"right","values":[0,0.05,0.1,0.15,0.2,0.25,0.3,0.35,0.4,0.45,0.5,0.55,0.6,0.65,0.7,0.75,0.8,0.85],"offset":-9,"tickSize":9,"labels":false,"title":null}},
"text":{"field":"label"}}}
]},
{"width":521,"height":427,
"view":{"stroke":"black","strokeWidth":3},
"resolve":{"axis":{"x":"independent","y":"independent"}},
"layer":[
{"data":{"name":"ptco"},"mark":{"type":"line","color":"#0000ff","strokeWidth":2.5},
"encoding":{
"x":{"field":"t","type":"quantitative","scale":{"domain":[-5,44.27],"nice":false,"zero":false},"axis":{"orient":"bottom","values":[0,10,20,30,40],"format":"d","ticks":false,"labelPadding":19,"title":"Relative Time to Switch (s)","titlePadding":12}},
"y":{"field":"v","type":"quantitative","scale":{"domain":[-0.2,2.2],"nice":false,"zero":false},"axis":{"orient":"left","values":[0,0.4,0.8,1.2,1.6,2],"format":"~g","ticks":false,"labelPadding":23,"title":"Height Normalized Absorbance","titlePadding":18}}}},
{"data":{"name":"co"},"mark":{"type":"line","color":"#ff0000","strokeWidth":2.5},
"encoding":{
"x":{"field":"t","type":"quantitative","scale":{"domain":[-5,44.27],"nice":false,"zero":false},"axis":{"orient":"bottom","values":[0,10,20,30,40],"offset":-19,"tickSize":19,"labels":false,"title":null}},
"y":{"field":"v","type":"quantitative","scale":{"domain":[-0.2,2.2],"nice":false,"zero":false},"axis":{"orient":"left","values":[0,0.4,0.8,1.2,1.6,2],"offset":-19,"tickSize":19,"labels":false,"title":null}}}},
{"data":{"name":"co2"},"mark":{"type":"line","color":"#808080","strokeWidth":2.5},
"encoding":{
"x":{"field":"t","type":"quantitative","scale":{"domain":[-5,44.27],"nice":false,"zero":false},"axis":{"orient":"bottom","values":[-4,-2,0,2,4,6,8,10,12,14,16,18,20,22,24,26,28,30,32,34,36,38,40,42,44],"offset":-9,"tickSize":9,"labels":false,"title":null}},
"y":{"field":"v","type":"quantitative","scale":{"domain":[-0.2,2.2],"nice":false,"zero":false},"axis":{"orient":"left","values":[-0.1,0,0.1,0.2,0.3,0.4,0.5,0.6,0.7,0.8,0.9,1,1.1,1.2,1.3,1.4,1.5,1.6,1.7,1.8,1.9,2,2.1],"offset":-9,"tickSize":9,"labels":false,"title":null}}}},
{"data":{"name":"switchB"},"mark":{"type":"rule","color":"black","strokeWidth":2.5,"strokeDash":[2,3]},
"encoding":{
"x":{"field":"t","type":"quantitative","scale":{"domain":[-5,44.27],"nice":false,"zero":false},"axis":{"orient":"top","values":[0,10,20,30,40],"offset":-19,"tickSize":19,"labels":false,"title":null}},
"y":{"field":"y1","type":"quantitative","scale":{"domain":[-0.2,2.2],"nice":false,"zero":false},"axis":{"orient":"right","values":[0,0.4,0.8,1.2,1.6,2],"offset":-19,"tickSize":19,"labels":false,"title":null}},
"y2":{"field":"y2"}}},
{"data":{"name":"spLabB"},"mark":{"type":"text","align":"center","baseline":"middle","fontSize":25},
"encoding":{
"x":{"field":"t","type":"quantitative","scale":{"domain":[-5,44.27],"nice":false,"zero":false},"axis":{"orient":"top","values":[-4,-2,0,2,4,6,8,10,12,14,16,18,20,22,24,26,28,30,32,34,36,38,40,42,44],"offset":-9,"tickSize":9,"labels":false,"title":null}},
"y":{"field":"v","type":"quantitative","scale":{"domain":[-0.2,2.2],"nice":false,"zero":false},"axis":{"orient":"right","values":[-0.1,0,0.1,0.2,0.3,0.4,0.5,0.6,0.7,0.8,0.9,1,1.1,1.2,1.3,1.4,1.5,1.6,1.7,1.8,1.9,2,2.1],"offset":-9,"tickSize":9,"labels":false,"title":null}},
"text":{"field":"label"},
"color":{"field":"sp","type":"nominal","scale":{"domain":["CO2","CO","PtCO"],"range":["#808080","#ff0000","#0000ff"]},"legend":null}}},
{"data":{"name":"panelB"},"mark":{"type":"text","align":"left","baseline":"middle","fontSize":25,"color":"black"},
"encoding":{
"x":{"field":"t","type":"quantitative","scale":{"domain":[-5,44.27],"nice":false,"zero":false},"axis":null},
"y":{"field":"v","type":"quantitative","scale":{"domain":[-0.2,2.2],"nice":false,"zero":false},"axis":null},
"text":{"field":"label"}}}
]}
]
}
